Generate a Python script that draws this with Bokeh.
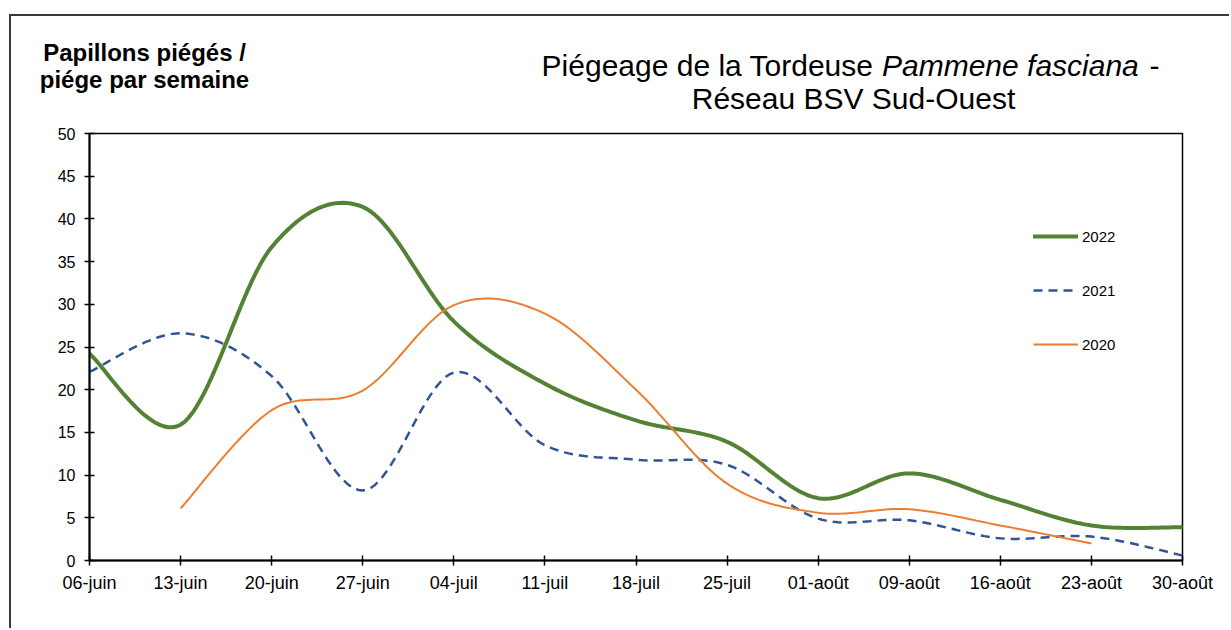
import numpy as np
from bokeh.plotting import figure
from bokeh.layouts import column
from bokeh.models import Range1d, FixedTicker, Label, Legend, LegendItem
from bokeh.embed import file_html
from bokeh.resources import INLINE

# ---------------- data ----------------
dates = ["06-juin", "13-juin", "20-juin", "27-juin", "04-juil", "11-juil", "18-juil",
         "25-juil", "01-août", "09-août", "16-août", "23-août", "30-août"]
y2022 = [24.2, 15.9, 36.7, 41.4, 28.0, 20.7, 16.4, 13.9, 7.3, 10.2, 7.1, 4.1, 3.9]
y2021 = [22.1, 26.6, 21.6, 8.2, 22.0, 13.5, 11.8, 11.2, 4.9, 4.7, 2.6, 2.8, 0.6]
y2020 = [None, 6.1, 17.6, 19.9, 29.9, 28.9, 20.0, 9.0, 5.6, 6.0, 4.1, 2.0, None]
series_names = ["2022", "2021", "2020"]
y_ticks = list(range(0, 51, 5))
title_parts = ["Piégeage de la Tordeuse", "Pammene fasciana", "-"]
title_line2 = "Réseau BSV Sud-Ouest"
ylabel_lines = ["Papillons piégés /", "piége par semaine"]


def smooth(xs, ys, n=24):
    """Excel-like smoothed line (cubic Bezier, Catmull-Rom control points)."""
    pts = [(x, y) for x, y in zip(xs, ys) if y is not None]
    P = np.array(pts, dtype=float)
    m = len(P) - 1
    out = [P[0]]
    t = np.linspace(0, 1, n)[1:, None]
    for i in range(m):
        p0 = P[i - 1] if i > 0 else P[i]
        p1 = P[i]
        p2 = P[i + 1]
        p3 = P[i + 2] if i + 2 <= m else P[i + 1]
        c1 = p1 + (p2 - p0) / 6.0
        c2 = p2 - (p3 - p1) / 6.0
        seg = ((1 - t) ** 3) * p1 + 3 * ((1 - t) ** 2) * t * c1 + 3 * (1 - t) * t ** 2 * c2 + t ** 3 * p2
        out.extend(seg)
    out = np.array(out)
    return out[:, 0], out[:, 1]


x_idx = list(range(len(dates)))
FONT = "Liberation Sans"
W = 1218
HEAD_H = 108

# ---------------- header (titles) ----------------
head = figure(width=W, height=HEAD_H, x_range=Range1d(0, W), y_range=Range1d(0, HEAD_H),
              output_backend="svg", toolbar_location=None,
              x_axis_type=None, y_axis_type=None,
              min_border_left=0, min_border_right=0, min_border_top=0, min_border_bottom=0)
head.frame_align = False
head.outline_line_color = None
head.xgrid.visible = False
head.ygrid.visible = False
head.background_fill_color = "white"
head.border_fill_color = "white"

X0, Y0 = 11, 27   # effective page offset of the header's text coordinates


def hx(px):
    return px - X0


def hy(py):
    return HEAD_H - (py - Y0)


title_kw = dict(text_font=FONT, text_font_size="30px", text_color="black",
                text_baseline="alphabetic")
head.add_layout(Label(x=hx(873), y=hy(76), text=title_parts[0], text_align="right", **title_kw))
head.add_layout(Label(x=hx(881.5), y=hy(76), text=title_parts[1], text_align="left",
                      text_font_style="italic", **title_kw))
head.add_layout(Label(x=hx(1149), y=hy(76), text=title_parts[2], text_align="left", **title_kw))
head.add_layout(Label(x=hx(853), y=hy(109), text=title_line2, text_align="center", **title_kw))

ylab_kw = dict(text_font=FONT, text_font_size="24px", text_font_style="bold",
               text_color="black", text_baseline="alphabetic", text_align="center")
head.add_layout(Label(x=hx(144), y=hy(63), text=ylabel_lines[0], **ylab_kw))
head.add_layout(Label(x=hx(144), y=hy(90), text=ylabel_lines[1], **ylab_kw))

# ---------------- chart ----------------
p = figure(width=W, height=612 - HEAD_H,
           x_range=Range1d(0, len(dates) - 1), y_range=Range1d(0, 50),
           output_backend="svg", toolbar_location=None,
           min_border_left=78, min_border_right=47,
           min_border_top=133 - 16 - HEAD_H, min_border_bottom=68)
p.frame_align = False
p.background_fill_color = "white"
p.border_fill_color = "white"
p.outline_line_color = "black"
p.outline_line_width = 1.5
p.xgrid.visible = False
p.ygrid.visible = False

p.xaxis.ticker = FixedTicker(ticks=x_idx)
p.xaxis.major_label_overrides = {i: d for i, d in enumerate(dates)}
p.yaxis.ticker = FixedTicker(ticks=y_ticks)
for ax in (p.xaxis, p.yaxis):
    ax.axis_line_color = "black"
    ax.axis_line_width = 2
    ax.major_tick_line_color = "black"
    ax.major_tick_line_width = 1.5
    ax.major_tick_in = 5
    ax.major_tick_out = 5
    ax.minor_tick_line_color = None
    ax.major_label_text_font = FONT
    ax.major_label_text_color = "black"
p.xaxis.major_label_text_font_size = "18px"
p.yaxis.major_label_text_font_size = "16px"
p.xaxis.major_label_standoff = 7
p.yaxis.major_label_standoff = 9

xs, ys = smooth(x_idx, y2022)
r22 = p.line(xs, ys, line_color="#548235", line_width=4, line_cap="round")
xs, ys = smooth(x_idx, y2021)
r21 = p.line(xs, ys, line_color="#2F5597", line_width=2.5, line_dash="9 6")
xs, ys = smooth(x_idx, y2020)
r20 = p.line(xs, ys, line_color="#ED7D31", line_width=2)

legend = Legend(items=[LegendItem(label=series_names[0], renderers=[r22]),
                       LegendItem(label=series_names[1], renderers=[r21]),
                       LegendItem(label=series_names[2], renderers=[r20])],
                location=(944, 206), orientation="vertical",
                glyph_width=45, glyph_height=20, label_height=20,
                spacing=34, padding=0, margin=0, label_standoff=4,
                border_line_color=None, background_fill_alpha=0,
                label_text_font=FONT, label_text_font_size="15px",
                label_text_color="black")
p.add_layout(legend)

page = column(head, p, spacing=0)
page.styles = {"border-left": "2px solid #3a3a3a", "border-top": "2px solid #3a3a3a",
               "margin-top": "14px", "margin-left": "9px"}

with open("out.html", "w", encoding="utf-8") as f:
    f.write(file_html(page, INLINE))
